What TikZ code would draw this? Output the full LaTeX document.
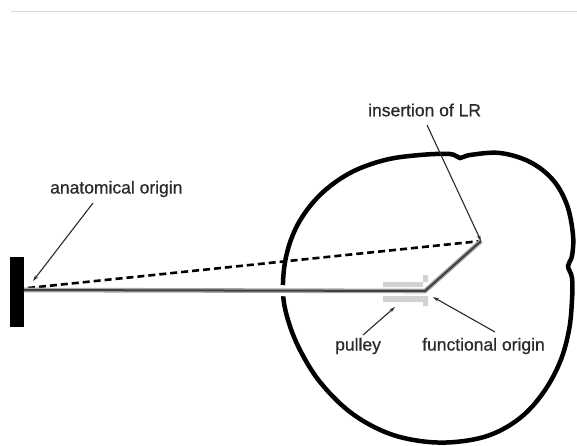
\documentclass[tikz,border=0pt]{standalone}
\usepackage{fontspec}
\setmainfont{Liberation Sans}[FakeBold=0.6]
\usetikzlibrary{arrows.meta}
\definecolor{ink}{HTML}{2A2A2A}
\tikzset{
  lbl/.style={inner sep=0pt, text=ink, font=\fontsize{17.5}{18}\selectfont},
  pointer/.style={draw=ink, line width=1.1pt, -{Stealth[length=6pt,width=3.5pt]}},
  tendonout/.style={draw=gray!70, line width=4.6pt, line join=round},
  tendonin/.style={draw=black!75, line width=2pt, line join=round},
  pulleypart/.style={fill=gray!35, draw=none},
  eye/.style={draw=black, line width=4.5pt},
  dashline/.style={draw=black, line width=2.6pt, dash pattern=on 7pt off 4pt}
}
\begin{document}
\begin{tikzpicture}[x=1pt, y=-1pt]
  \useasboundingbox (0,0) rectangle (577,446);
  \fill[white] (0,0) rectangle (577,446);

  % thin rule along the top
  \draw[gray!30, line width=1pt] (11,12) -- (577,12);

  % key points of the muscle path
  \coordinate (wallR) at (24,290);
  \coordinate (dashA) at (28,288);
  \coordinate (bend) at (425,291);
  \coordinate (ins) at (481,241);

  % outline of the globe
  \draw[eye] plot[smooth cycle, tension=0.6] coordinates {
    (283,292) (286,257) (298,224) (320,195) (350,173) (385,160) (420,155)
    (450,154) (460,158) (470,155) (500,153) (530,162) (553,180) (567,205)
    (573,235) (572,256) (568,266) (572,278) (572,300) (569,330) (560,362)
    (543,393) (520,418) (490,435) (455,442) (420,441) (385,432) (350,412)
    (320,382) (300,350) (288,320)};

  % fixed wall at the anatomical origin
  \node[fill=black, minimum width=14pt, minimum height=70pt, inner sep=0pt, anchor=north west] (wall) at (10,257) {};

  % straight line from origin to insertion
  \draw[dashline] (dashA) -- (ins);

  % pulley sleeve around the bend
  \fill[pulleypart] (383,282) -- (428,282) -- (428,275) -- (423,275) -- (423,287) -- (383,287) -- cycle;
  \fill[pulleypart] (383,296) -- (428,296) -- (428,306) -- (423,306) -- (423,302) -- (383,302) -- cycle;

  % muscle path, with a white gap where it passes the globe outline
  \draw[white, line width=11pt] (276,290.7) -- (292,290.8);
  \draw[tendonout] (wallR) -- (bend) -- (ins);
  \draw[tendonin] (wallR) -- (bend) -- (ins);

  % labels
  \node[lbl, anchor=west] (anat) at (50,189) {anatomical origin};
  \node[lbl, anchor=west] (insl) at (368,110) {insertion of LR};
  \node[lbl, anchor=west] (pul) at (335,346) {pulley};
  \node[lbl, anchor=west] (func) at (422,346) {functional origin};

  % pointer tails and heads
  \coordinate (anatT) at (93,203);
  \coordinate (inslT) at (427,125);
  \coordinate (pulT) at (363,335);
  \coordinate (funcT) at (495,332);
  \coordinate (anatH) at (33,281);
  \coordinate (pulH) at (395,307);
  \coordinate (funcH) at (433,297);

  \draw[pointer] (anatT) -- (anatH);
  \draw[pointer] (inslT) -- (ins);
  \draw[pointer] (pulT) -- (pulH);
  \draw[pointer] (funcT) -- (funcH);
\end{tikzpicture}
\end{document}
